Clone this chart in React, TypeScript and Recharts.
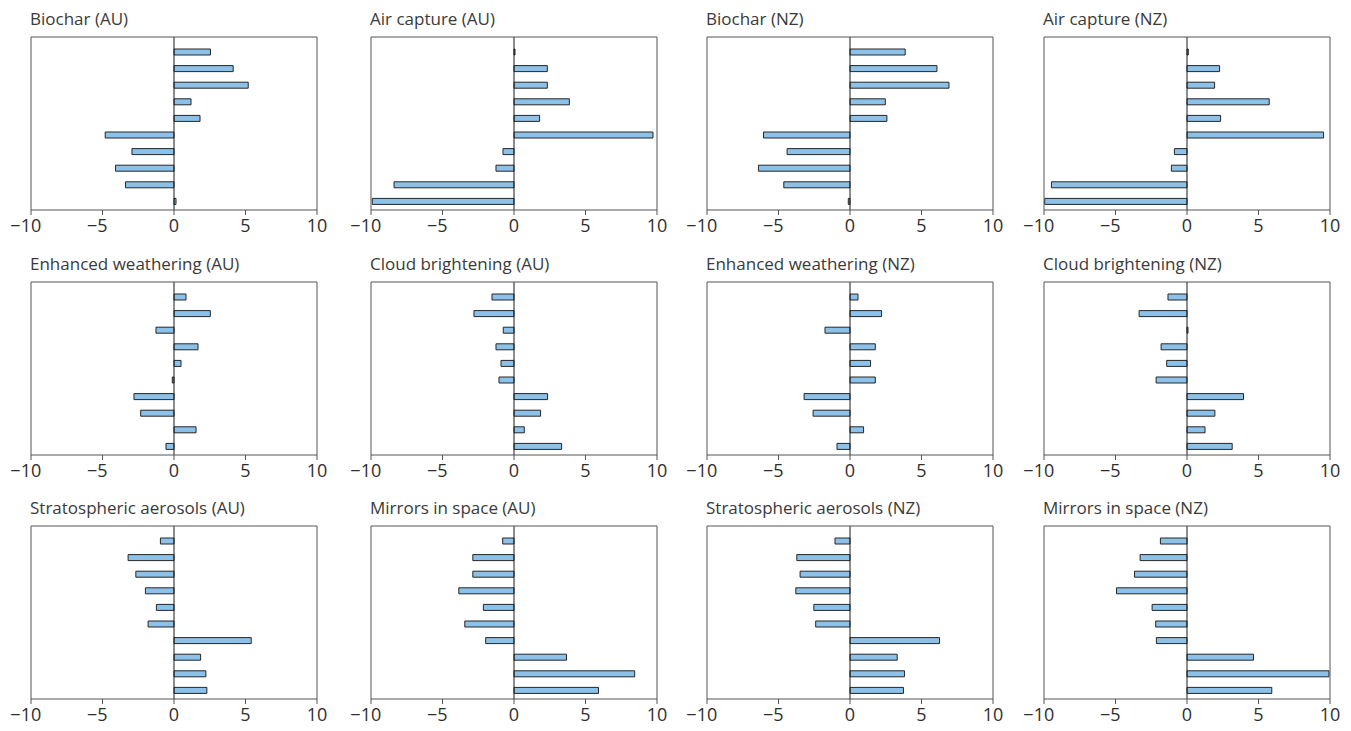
import { BarChart, Bar, XAxis, YAxis, ReferenceLine } from 'recharts'

// ten respondents / items per panel, top to bottom
const itemIds = [1, 2, 3, 4, 5, 6, 7, 8, 9, 10]
const xTicks = [-10, -5, 0, 5, 10]

const biocharAU     = [2.55, 4.14, 5.19, 1.19, 1.82, -4.81, -2.94, -4.09, -3.39, 0.14]
const airCaptureAU  = [0.07, 2.33, 2.33, 3.87, 1.79, 9.72, -0.77, -1.26, -8.39, -9.91]
const biocharNZ     = [3.86, 6.08, 6.92, 2.47, 2.58, -6.05, -4.4, -6.4, -4.63, -0.12]
const airCaptureNZ  = [0.09, 2.28, 1.93, 5.75, 2.35, 9.55, -0.88, -1.09, -9.48, -9.95]
const weatheringAU  = [0.84, 2.54, -1.26, 1.68, 0.49, -0.12, -2.8, -2.33, 1.54, -0.56]
const cloudAU       = [-1.54, -2.8, -0.75, -1.26, -0.91, -1.05, 2.35, 1.86, 0.72, 3.33]
const weatheringNZ  = [0.56, 2.21, -1.75, 1.77, 1.44, 1.77, -3.21, -2.58, 0.95, -0.91]
const cloudNZ       = [-1.33, -3.35, 0.07, -1.81, -1.42, -2.16, 3.95, 1.95, 1.26, 3.16]
const aerosolsAU    = [-0.95, -3.21, -2.67, -2.0, -1.23, -1.81, 5.4, 1.86, 2.23, 2.3]
const mirrorsAU     = [-0.79, -2.88, -2.88, -3.86, -2.14, -3.44, -1.98, 3.67, 8.44, 5.91]
const aerosolsNZ    = [-1.05, -3.72, -3.49, -3.79, -2.53, -2.4, 6.26, 3.3, 3.81, 3.74]
const mirrorsNZ     = [-1.86, -3.28, -3.67, -4.93, -2.44, -2.19, -2.14, 4.65, 9.93, 5.93]

const panels = [
  { title: 'Biochar (AU)',                values: biocharAU },
  { title: 'Air capture (AU)',            values: airCaptureAU },
  { title: 'Biochar (NZ)',                values: biocharNZ },
  { title: 'Air capture (NZ)',            values: airCaptureNZ },
  { title: 'Enhanced weathering (AU)',    values: weatheringAU },
  { title: 'Cloud brightening (AU)',      values: cloudAU },
  { title: 'Enhanced weathering (NZ)',    values: weatheringNZ },
  { title: 'Cloud brightening (NZ)',      values: cloudNZ },
  { title: 'Stratospheric aerosols (AU)', values: aerosolsAU },
  { title: 'Mirrors in space (AU)',       values: mirrorsAU },
  { title: 'Stratospheric aerosols (NZ)', values: aerosolsNZ },
  { title: 'Mirrors in space (NZ)',       values: mirrorsNZ },
]

const colLefts = [31, 371, 707, 1044]
const rowTops  = [37, 282, 526]
const plotW = 286
const plotH = 173
// the 1px side/top axes only draw the frame; margins leave room for them
const M = { top: 1, right: 21, bottom: 0, left: 25 }
const FONT = '"Open Sans", "Noto Sans", sans-serif'
const boxColor = '#555'

function Tick({ x, y, payload }: any) {
  const v = payload.value as number
  const label = v < 0 ? `\u2212${Math.abs(v)}` : String(v)
  return (
    <text x={v < 0 ? x - 5.2 : x} y={y} dy="0.71em" textAnchor="middle"
      fill="#2e2e2e" fontSize={18} fontFamily={FONT}>
      {label}
    </text>
  )
}

function Panel({ title, values, left, top }: { title: string; values: number[]; left: number; top: number }) {
  const data = itemIds.map((id, i) => ({ id, v: values[i] }))
  return (
    <>
      <div style={{
        position: 'absolute', left: left - 1, top: top - 27, fontFamily: FONT,
        fontSize: 17, lineHeight: '17px', color: '#3a3a3a', whiteSpace: 'nowrap',
      }}>
        {title}
      </div>
      <div style={{ position: 'absolute', left: left - M.left - 1, top: top - M.top - 1 }}>
        <BarChart layout="vertical" width={M.left + 1 + plotW + 1 + M.right} height={M.top + 1 + plotH + 30}
          data={data} margin={M}>
          <XAxis type="number" domain={[-10, 10]} ticks={xTicks} allowDataOverflow
            tickSize={5} tickMargin={4} height={30} tick={<Tick />}
            axisLine={{ stroke: boxColor }} tickLine={{ stroke: boxColor }} />
          <XAxis xAxisId="top" orientation="top" type="number" domain={[-10, 10]}
            tick={false} tickLine={false} height={1} axisLine={{ stroke: boxColor }} />
          <YAxis type="category" dataKey="id" width={1} tick={false} tickLine={false}
            padding={{ top: 7, bottom: 0 }} axisLine={{ stroke: boxColor }} />
          <YAxis yAxisId="right" orientation="right" type="category" dataKey="id" width={1}
            tick={false} tickLine={false} axisLine={{ stroke: boxColor }} />
          <ReferenceLine x={0} stroke="#1a1a1a" strokeWidth={1} />
          <Bar dataKey="v" barSize={6} fill="#8cc2e9" stroke="#262626" strokeWidth={1}
            isAnimationActive={false} />
        </BarChart>
      </div>
    </>
  )
}

export default function App() {
  return (
    <div style={{ position: 'absolute', left: 0, top: 0, width: 1351, height: 731, background: '#fff' }}>
      {panels.map((p, i) => (
        <Panel key={p.title} title={p.title} values={p.values}
          left={colLefts[i % 4]} top={rowTops[Math.floor(i / 4)]} />
      ))}
    </div>
  )
}
